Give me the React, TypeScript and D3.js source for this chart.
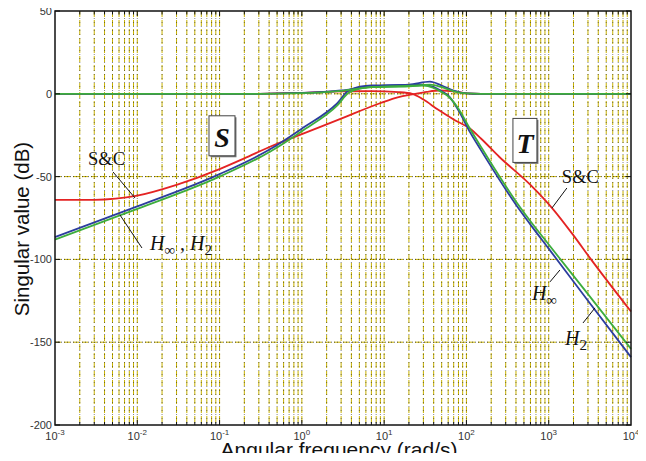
import React, { useEffect, useRef } from 'react';
import * as d3 from 'd3';

// singular value curves, [frequency rad/s, dB]
const sensSC: [number, number][] = [[1e-3, -64], [3e-3, -64], [1e-2, -61.5], [3e-2, -55], [0.1, -45.5], [0.2, -39], [0.41, -32], [1, -24.3], [3, -15], [8.9, -5.7], [15, -2], [22, -0.4], [33, 1.2], [47, 2], [70, 1.5], [100, 0.3], [150, 0], [1e4, 0]];
const sensHinf: [number, number][] = [[1e-3, -86.5], [1e-2, -68], [0.1, -48.5], [0.41, -33.5], [1, -21], [2.7, -5.7], [3.8, 2.4], [7, 5], [20, 5.5], [36, 7.3], [50, 5], [70, 2], [100, 0.3], [150, 0], [1e4, 0]];
const sensH2: [number, number][] = [[1e-3, -88], [1e-2, -69.5], [0.1, -50], [0.41, -35], [1, -22.6], [2.7, -7], [3.8, 1], [7, 4], [20, 4.5], [36, 5.5], [50, 4], [70, 1.5], [100, 0.2], [150, 0], [1e4, 0]];
const compSC: [number, number][] = [[1e-3, 0], [0.3, 0], [1, 0.5], [3, 1.5], [7, 1.6], [15, 1], [22, 0], [30, -3.5], [45, -9.5], [70, -15.5], [110, -21], [150, -27], [250, -38], [600, -55], [1100, -69], [2000, -85.5], [3200, -99.4], [1e4, -131.5]];
const compHinf: [number, number][] = [[1e-3, 0], [0.3, 0], [1, 0.5], [3, 2], [7, 4.5], [15, 5.2], [30, 5.5], [40, 4], [50, 1.5], [60, -1], [80, -10], [110, -23], [150, -34], [400, -67], [600, -79], [1000, -93.5], [3000, -125], [1e4, -159]];
const compH2: [number, number][] = [[1e-3, 0], [0.3, 0], [1, 0.4], [3, 1.8], [7, 4], [15, 4.6], [30, 5], [40, 3.5], [50, 1], [60, -1.5], [80, -9], [110, -21], [150, -32], [400, -65], [600, -77], [1000, -91], [3000, -121], [1e4, -154]];

const xDecades = [1e-3, 1e-2, 1e-1, 1, 10, 100, 1000, 10000];
const xExponents = ['-3', '-2', '-1', '0', '1', '2', '3', '4'];
const yTicks = [50, 0, -50, -100, -150, -200];
const yGrid = [0, -50, -100, -150];

const red = '#e42323';
const blue = '#2c3d9e';
const green = '#3dad3d';

const width = 646, height = 461;

export default function App() {
    const svgRef = useRef<SVGSVGElement>(null);

    useEffect(() => {
        const svg = d3.select(svgRef.current);
        svg.selectAll('*').remove();

        const margin = { top: 11, right: 15, bottom: 36, left: 55 };
        const x = d3.scaleLog().domain([1e-3, 1e4]).range([margin.left, width - margin.right]);
        const y = d3.scaleLinear().domain([-200, 50]).range([height - margin.bottom, margin.top]);

        svg.append('rect').attr('width', width).attr('height', height).attr('fill', 'white');

        // minor + major vertical grid
        const vLines: number[] = [];
        for (let k = -3; k < 4; k++) {
            for (let m = 1; m < 10; m++) {
                const v = m * Math.pow(10, k);
                if (v > 1e-3) vLines.push(v);
            }
        }
        const grid = svg.append('g');
        vLines.forEach(v => {
            grid.append('line').attr('x1', x(v)).attr('x2', x(v)).attr('y1', y(50)).attr('y2', y(-200))
                .attr('stroke', '#c9b300').attr('stroke-width', 1).attr('stroke-dasharray', '6,3');
            grid.append('line').attr('x1', x(v)).attr('x2', x(v)).attr('y1', y(50)).attr('y2', y(-200))
                .attr('stroke', '#333').attr('stroke-width', 1).attr('stroke-dasharray', '1,3')
                .attr('stroke-dashoffset', -7).attr('opacity', 0.6);
        });
        yGrid.forEach(v => {
            grid.append('line').attr('x1', x(1e-3)).attr('x2', x(1e4)).attr('y1', y(v)).attr('y2', y(v))
                .attr('stroke', '#c9b300').attr('stroke-width', 1).attr('stroke-dasharray', '6,3');
            grid.append('line').attr('x1', x(1e-3)).attr('x2', x(1e4)).attr('y1', y(v)).attr('y2', y(v))
                .attr('stroke', '#222').attr('stroke-width', 1).attr('stroke-dasharray', '1,2')
                .attr('opacity', 0.7);
        });

        // curves
        const line = d3.line<[number, number]>()
            .x(d => x(d[0]))
            .y(d => y(d[1]))
            .curve(d3.curveMonotoneX);

        const curves: [[number, number][], string][] = [
            [sensSC, red], [compSC, red],
            [sensHinf, blue], [compHinf, blue],
            [sensH2, green], [compH2, green],
        ];
        svg.append('g').selectAll('path')
            .data(curves)
            .join('path')
            .attr('d', d => line(d[0]))
            .attr('fill', 'none')
            .attr('stroke', d => d[1])
            .attr('stroke-width', 1.8);

        // frame
        svg.append('rect')
            .attr('x', margin.left).attr('y', margin.top)
            .attr('width', width - margin.left - margin.right)
            .attr('height', height - margin.top - margin.bottom)
            .attr('fill', 'none').attr('stroke', '#111').attr('stroke-width', 1.5);

        // ticks
        const ticks = svg.append('g').attr('stroke', '#111').attr('stroke-width', 1);
        vLines.forEach(v => {
            const len = xDecades.includes(v) ? 5 : 3;
            ticks.append('line').attr('x1', x(v)).attr('x2', x(v)).attr('y1', y(-200)).attr('y2', y(-200) - len);
            ticks.append('line').attr('x1', x(v)).attr('x2', x(v)).attr('y1', y(50)).attr('y2', y(50) + len);
        });
        yTicks.forEach(v => {
            ticks.append('line').attr('x1', x(1e-3)).attr('x2', x(1e-3) + 5).attr('y1', y(v)).attr('y2', y(v));
            ticks.append('line').attr('x1', x(1e4)).attr('x2', x(1e4) - 5).attr('y1', y(v)).attr('y2', y(v));
        });

        // tick labels
        svg.append('g').selectAll('text')
            .data(yTicks)
            .join('text')
            .attr('x', margin.left - 3)
            .attr('y', d => y(d) + 4)
            .attr('text-anchor', 'end')
            .attr('font-family', 'Liberation Sans, Arial, sans-serif')
            .attr('font-size', 11)
            .attr('fill', '#333')
            .text(d => String(d));

        const xl = svg.append('g')
            .attr('font-family', 'Liberation Sans, Arial, sans-serif')
            .attr('fill', '#333');
        xDecades.forEach((v, i) => {
            const t = xl.append('text').attr('x', x(v)).attr('y', height - margin.bottom + 15)
                .attr('text-anchor', 'middle').attr('font-size', 11);
            t.append('tspan').text('10');
            t.append('tspan').attr('dy', -5).attr('font-size', 8).text(xExponents[i]);
        });

        // axis titles
        svg.append('text')
            .attr('x', 339)
            .attr('y', 457)
            .attr('text-anchor', 'middle')
            .attr('font-family', 'Liberation Sans, Arial, sans-serif')
            .attr('font-size', 21)
            .attr('fill', '#111')
            .text('Angular frequency (rad/s)');
        svg.append('text')
            .attr('transform', 'translate(29, 229) rotate(-90)')
            .attr('text-anchor', 'middle')
            .attr('font-family', 'Liberation Sans, Arial, sans-serif')
            .attr('font-size', 20.5)
            .attr('fill', '#111')
            .text('Singular value (dB)');

        // boxed S / T labels
        const boxes: [string, number, number, number, number][] = [
            ['S', 0.107, -32, 26, 40],
            ['T', 514, -36, 24, 44],
        ];
        boxes.forEach(([lab, f, db, bw, bh]) => {
            const cx = x(f), by = y(db);
            svg.append('rect').attr('x', cx - bw / 2 + 1.5).attr('y', by - bh + 9 + 1.5)
                .attr('width', bw).attr('height', bh).attr('fill', '#777');
            svg.append('rect').attr('x', cx - bw / 2).attr('y', by - bh + 9)
                .attr('width', bw).attr('height', bh).attr('fill', 'white')
                .attr('stroke', '#444').attr('stroke-width', 1);
            svg.append('text').attr('x', cx).attr('y', by)
                .attr('text-anchor', 'middle')
                .attr('font-family', 'Liberation Serif, Times New Roman, serif')
                .attr('font-weight', 'bold').attr('font-style', 'italic')
                .attr('font-size', 28).attr('fill', '#111')
                .text(lab);
        });

        // leader lines [f1, db1, f2, db2]
        const leaders: [number, number, number, number][] = [
            [0.00507, -47.2, 0.00938, -62.9],
            [0.00617, -73.2, 0.0114, -93.1],
            [1663, -56.9, 1094, -69.0],
            [1368, -106.4, 1035, -113.6],
            [3648, -129.3, 2608, -138.4],
        ];
        svg.append('g').selectAll('line')
            .data(leaders)
            .join('line')
            .attr('x1', d => x(d[0])).attr('y1', d => y(d[1]))
            .attr('x2', d => x(d[2])).attr('y2', d => y(d[3]))
            .attr('stroke', '#111').attr('stroke-width', 1);

        const serif = 'Liberation Serif, Times New Roman, serif';
        const scLabels: [number, number][] = [[0.00252, -43], [1445, -53.9]];
        scLabels.forEach(([f, db]) => {
            svg.append('text').attr('x', x(f)).attr('y', y(db))
                .attr('font-family', serif).attr('font-size', 18.5).attr('fill', '#111')
                .text('S&C');
        });

        // italic H with subscript; parts alternate main text / subscript
        const hText = (f: number, db: number, parts: [string, string][]) => {
            const t = svg.append('text').attr('x', x(f)).attr('y', y(db))
                .attr('font-family', serif).attr('font-size', 20).attr('fill', '#111');
            let shifted = false;
            parts.forEach(([main, sub]) => {
                const m = t.append('tspan').attr('font-style', main === 'H' ? 'italic' : 'normal').text(main);
                if (shifted) { m.attr('dy', -5); shifted = false; }
                if (sub) {
                    t.append('tspan').attr('dy', 5).attr('font-size', 15).text(sub);
                    shifted = true;
                }
            });
        };
        hText(0.01426, -94.3, [['H', '\u221e'], [' , ', ''], ['H', '2']]);
        hText(625, -124.5, [['H', '\u221e']]);
        hText(1574, -151.7, [['H', '2']]);
    }, []);

    return <svg ref={svgRef} width={width} height={height} style={{ display: 'block', margin: -8 }} />;
}
